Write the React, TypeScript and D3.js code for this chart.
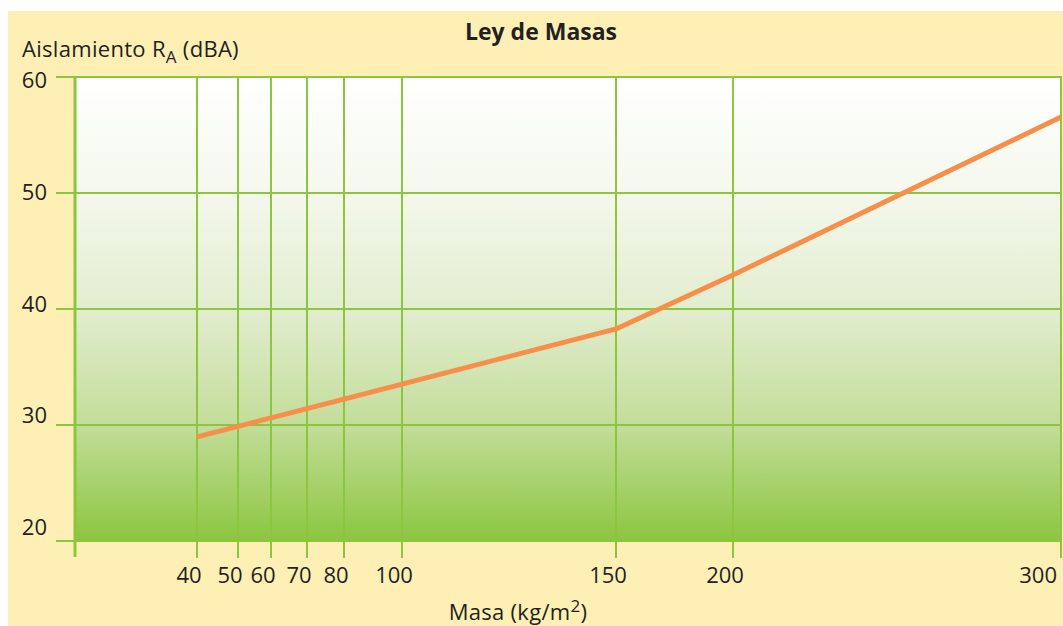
import React from "react";
import * as d3 from "d3";

const massTicks = [40, 50, 60, 70, 80, 100, 150, 200, 300];
const massPositions = [197, 238, 271, 307, 344, 402, 616, 733, 1061];
const insulation = [28.97, 29.88, 30.61, 31.41, 32.23, 33.53, 38.28, 42.93, 56.55];
const yTicks = [20, 30, 40, 50, 60];

const W = 1063;
const H = 626;
const plotLeft = 75;
const plotRight = 1062;
const plotTop = 77;
const plotBottom = 541;
const green = "#8cc63f";
const cream = "#fef0b5";
const ink = "#231f20";
const font = "'Open Sans', sans-serif";

export default function App() {
  const x = d3.scaleLinear().domain(massTicks).range(massPositions);
  const y = d3.scaleLinear().domain([20, 60]).range([plotBottom, plotTop]);
  const yLabel = d3.scaleLinear().domain([20, 60]).range([535, 88]);
  const line = d3
    .line<number>()
    .x((_, i) => x(massTicks[i]))
    .y((d) => y(d));

  return (
    <svg
      width={W}
      height={H}
      style={{ position: "absolute", left: 0, top: 0, display: "block" }}
    >
      <defs>
        <linearGradient id="bg" x1="0" y1="0" x2="0" y2="1">
          <stop offset="0" stopColor="#ffffff" />
          <stop offset="0.25" stopColor="#f4f8ec" />
          <stop offset="0.5" stopColor="#e2edcf" />
          <stop offset="0.75" stopColor="#c3dd9a" />
          <stop offset="1" stopColor="#8cc63f" />
        </linearGradient>
      </defs>
      <rect x={0} y={0} width={W} height={H} fill="#ffffff" />
      <rect x={8} y={11} width={W - 8} height={H - 11} fill={cream} />
      <rect
        x={plotLeft}
        y={plotTop}
        width={plotRight - plotLeft}
        height={plotBottom - plotTop}
        fill="url(#bg)"
      />
      {yTicks.map((t) => (
        <line
          key={"h" + t}
          x1={56}
          x2={plotRight}
          y1={y(t)}
          y2={y(t)}
          stroke={green}
          strokeWidth={2}
        />
      ))}
      {massTicks.map((t) => (
        <line
          key={"v" + t}
          x1={x(t)}
          x2={x(t)}
          y1={plotTop}
          y2={558}
          stroke={green}
          strokeWidth={2}
        />
      ))}
      <line
        x1={plotLeft}
        x2={plotLeft}
        y1={plotTop - 1}
        y2={557}
        stroke={green}
        strokeWidth={3}
      />
      <path
        d={line(insulation) || ""}
        fill="none"
        stroke="#f78f4b"
        strokeWidth={5}
        strokeLinejoin="round"
      />
      {yTicks.map((t) => (
        <text
          key={"yl" + t}
          x={47}
          y={yLabel(t)}
          textAnchor="end"
          fontFamily={font}
          fontSize={22}
          fill={ink}
        >
          {t}
        </text>
      ))}
      {massTicks.map((t, i) => (
        <text
          key={"xl" + t}
          x={i === massTicks.length - 1 ? 1057 : x(t) - 8}
          y={583}
          textAnchor={i === massTicks.length - 1 ? "end" : "middle"}
          fontFamily={font}
          fontSize={22}
          fill={ink}
        >
          {t}
        </text>
      ))}
      <text
        x={541}
        y={40}
        textAnchor="middle"
        fontFamily={font}
        fontWeight="bold"
        fontSize={23}
        fill={ink}
      >
        Ley de Masas
      </text>
      <text
        x={22}
        y={57}
        fontFamily={font}
        fontSize={22}
        letterSpacing={0.3}
        fill={ink}
      >
        Aislamiento R
        <tspan fontSize={17} dy={6}>A</tspan>
        <tspan dy={-6}> (dBA)</tspan>
      </text>
      <text
        x={518}
        y={620}
        textAnchor="middle"
        fontFamily={font}
        fontSize={22}
        letterSpacing={0.3}
        fill={ink}
      >
        Masa (kg/m
        <tspan fontSize={17} dy={-8}>2</tspan>
        <tspan dy={8}>)</tspan>
      </text>
    </svg>
  );
}
